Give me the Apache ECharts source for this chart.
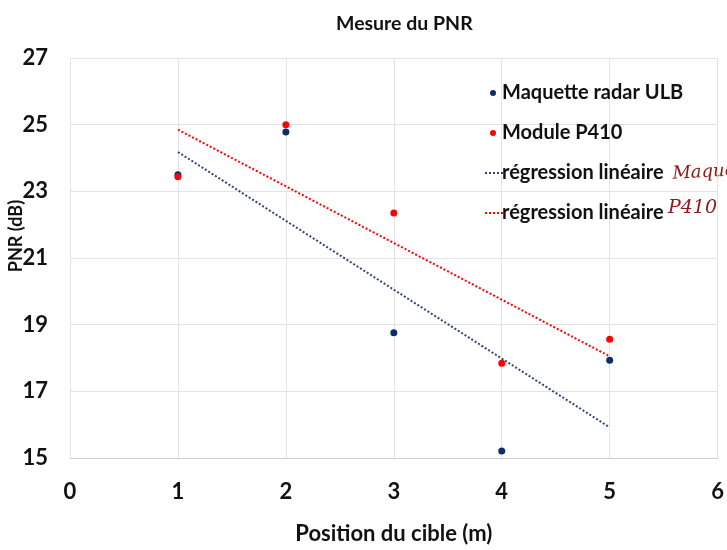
<!DOCTYPE html>
<html><head><meta charset="utf-8">
<script src="https://cdn.jsdelivr.net/npm/echarts@6/dist/echarts.min.js"></script>
<style>html,body{margin:0;padding:0;background:#fff}#c{width:727px;height:550px}</style>
</head><body><div id="c"></div>
<script>
const positions = [1, 2, 3, 4, 5];
const maquetteValues = [23.50, 24.78, 18.76, 15.21, 17.93];
const p410Values = [23.44, 25.00, 22.35, 17.84, 18.56];
const trendMaquetteX = [1, 5];
const trendMaquetteY = [24.18, 15.92];
const trendP410X = [1, 5];
const trendP410Y = [24.85, 18.05];
const xTicks = [0, 1, 2, 3, 4, 5, 6];
const yTicks = [15, 17, 19, 21, 23, 25, 27];

const FONT = 'Lato';
const blue = '#0c2d6b';
const trendBlue = '#2f4673';
const red = '#ff0000';
const zip = (a, b) => a.map((v, i) => [v, b[i]]);
const dotIcon = 'path://M0,0h2v2h-2z M4,0h2v2h-2z M8,0h2v2h-2z M12,0h2v2h-2z M16,0h2v2h-2z';

const chart = echarts.init(document.getElementById('c'));
chart.setOption({
  animation: false,
  backgroundColor: '#fff',
  textStyle: { fontFamily: FONT },
  title: {
    text: 'Mesure du PNR', left: 331, top: 9,
    textStyle: { fontFamily: FONT, fontWeight: 'bold', fontSize: 19.5, color: '#111' }
  },
  grid: { left: 70, right: 5, top: 58, bottom: 87, containLabel: false },
  xAxis: {
    type: 'value', min: xTicks[0], max: xTicks[xTicks.length - 1], interval: 1,
    name: 'Position du cible (m)', nameLocation: 'middle', nameGap: 65,
    nameTextStyle: { fontFamily: FONT, fontWeight: 'bold', fontSize: 22, color: '#111' },
    axisLine: { show: true, lineStyle: { color: '#d0d0d0' } },
    axisTick: { show: false },
    axisLabel: { fontFamily: FONT, fontWeight: 'bold', fontSize: 22, color: '#111', margin: 23 },
    splitLine: { show: true, lineStyle: { color: '#e3e3e3' } }
  },
  yAxis: {
    type: 'value', min: yTicks[0], max: yTicks[yTicks.length - 1], interval: 2,
    axisLine: { show: false },
    axisTick: { show: false },
    axisLabel: { fontFamily: FONT, fontWeight: 'bold', fontSize: 22, color: '#111', margin: 22 },
    splitLine: { show: true, lineStyle: { color: '#e3e3e3' } }
  },
  legend: [
    {
      orient: 'vertical', left: 485, top: 78, itemGap: 20,
      itemWidth: 6, itemHeight: 6, icon: 'circle',
      data: ['Maquette radar ULB', 'Module P410'],
      textStyle: { fontFamily: FONT, fontWeight: 'bold', fontSize: 20, color: '#111', lineHeight: 20, padding: [0, 0, 0, 1] }
    },
    {
      orient: 'vertical', left: 480, top: 158, itemGap: 20,
      itemWidth: 18, itemHeight: 2, icon: dotIcon,
      data: ['régression linéaire', 'régression linéaire '],
      textStyle: { fontFamily: FONT, fontWeight: 'bold', fontSize: 20, color: '#111', lineHeight: 20, padding: [0, 0, 0, -6] }
    }
  ],
  graphic: [
    { type: 'text', x: 16, y: 236, rotation: Math.PI / 2,
      style: { text: 'PNR (dB)', fontFamily: FONT, fontWeight: 'bold', fontSize: 18, fill: '#111', align: 'center', verticalAlign: 'middle' } },
    { type: 'text', x: 672, y: 165, rotation: 0.05,
      style: { text: 'Maquet', fontFamily: 'DejaVu Serif', fontStyle: 'italic', fontSize: 18, fill: '#8b1a1a' } },
    { type: 'text', x: 668, y: 199,
      style: { text: 'P410', fontFamily: 'DejaVu Serif', fontStyle: 'italic', fontSize: 19, fill: '#8b1a1a' } }
  ],
  series: [
    { name: 'Maquette radar ULB', type: 'scatter', symbol: 'circle', symbolSize: 7,
      itemStyle: { color: blue, opacity: 1 }, data: zip(positions, maquetteValues), z: 5 },
    { name: 'Module P410', type: 'scatter', symbol: 'circle', symbolSize: 7,
      itemStyle: { color: red, opacity: 1 }, data: zip(positions, p410Values), z: 6 },
    { name: 'régression linéaire', type: 'line', showSymbol: false, symbol: 'none',
      lineStyle: { color: trendBlue, width: 2, type: [2, 2] }, itemStyle: { color: trendBlue },
      data: zip(trendMaquetteX, trendMaquetteY), z: 3 },
    { name: 'régression linéaire ', type: 'line', showSymbol: false, symbol: 'none',
      lineStyle: { color: red, width: 2, type: [2, 2] }, itemStyle: { color: red },
      data: zip(trendP410X, trendP410Y), z: 3 }
  ]
});
</script></body></html>
